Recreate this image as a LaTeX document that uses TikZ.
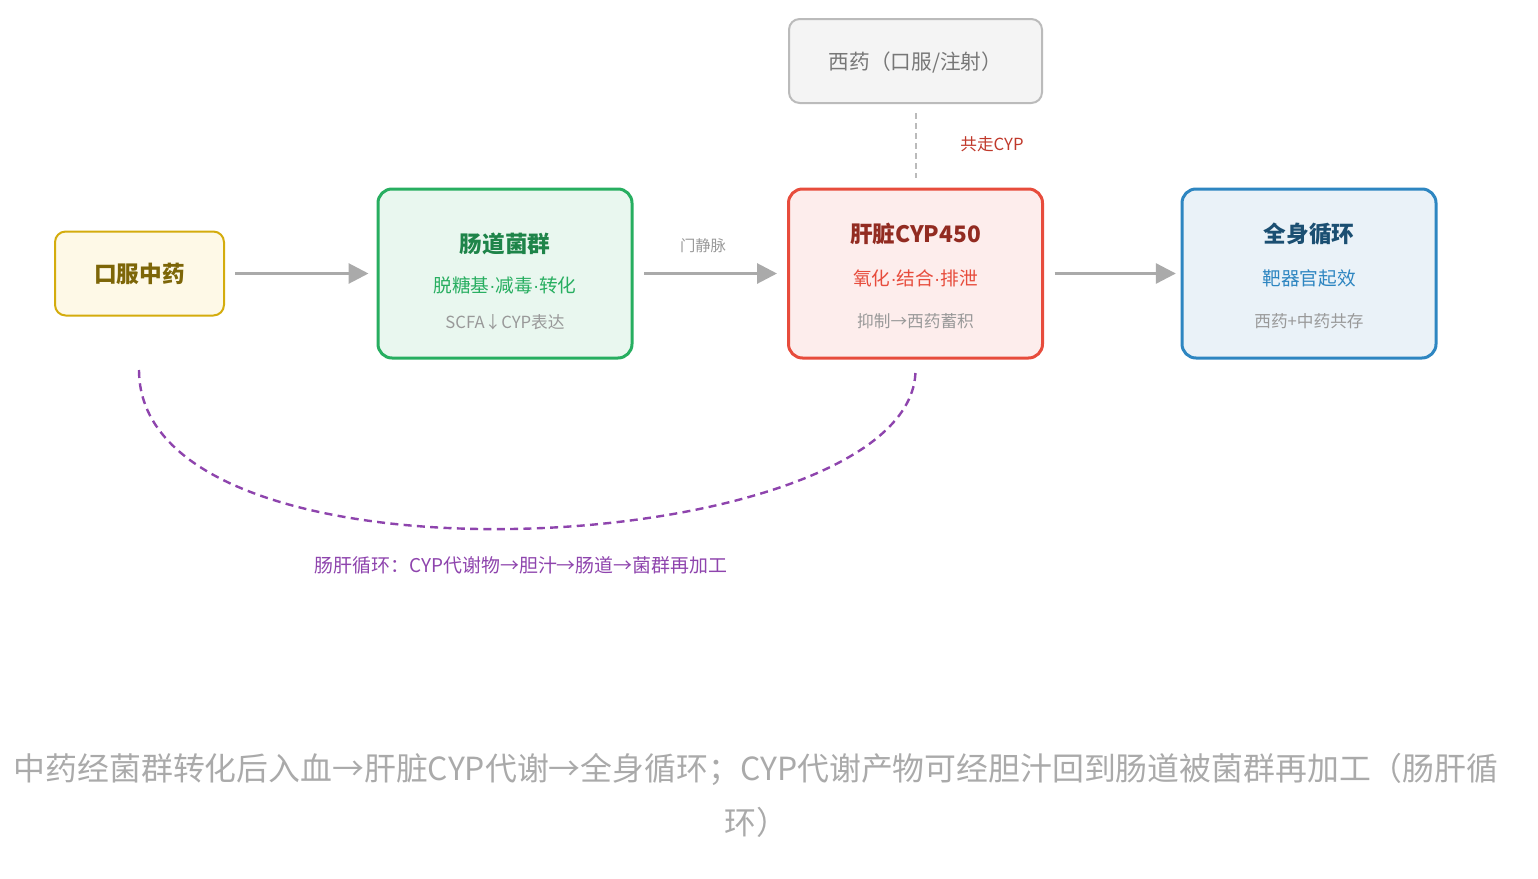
\documentclass[tikz,border=0pt]{standalone}
\usepackage{fontspec}
\setmainfont{Noto Sans CJK SC}
\newfontfamily\latinfont{Liberation Sans}
\newcommand{\mdot}{{\latinfont ·}}
\usepackage{tikz}
\usetikzlibrary{arrows.meta}
\definecolor{oralline}{HTML}{D4AC0D}
\definecolor{oralfill}{HTML}{FEF9E7}
\definecolor{oraltext}{HTML}{7D6608}
\definecolor{gutline}{HTML}{27AE60}
\definecolor{gutfill}{HTML}{E9F7EF}
\definecolor{gutdark}{HTML}{1E8449}
\definecolor{liverline}{HTML}{E74C3C}
\definecolor{liverfill}{HTML}{FDEDEC}
\definecolor{liverdark}{HTML}{922B21}
\definecolor{cypred}{HTML}{C0392B}
\definecolor{bodyline}{HTML}{2E86C1}
\definecolor{bodyfill}{HTML}{EAF2F8}
\definecolor{bodydark}{HTML}{1B4F72}
\definecolor{westline}{HTML}{BBBBBB}
\definecolor{westfill}{HTML}{F4F4F4}
\definecolor{westtext}{HTML}{777777}
\definecolor{arrowgray}{HTML}{AAAAAA}
\definecolor{notegray}{HTML}{999999}
\definecolor{loopviolet}{HTML}{8E44AD}
\tikzset{> = {Triangle[length=15pt,width=15pt]}, every picture/.style={line width=2.25pt}}
\tikzset{
  titletext/.style={font=\bfseries\fontsize{17}{20}\selectfont},
  subtext/.style={font=\fontsize{14}{16}\selectfont},
  notetext/.style={font=\fontsize{12.5}{14}\selectfont, text=notegray}
}

\begin{document}
\begin{tikzpicture}[x=0.75pt,y=-0.75pt]
\useasboundingbox (0,0) rectangle (1538,878);

\begin{scope}[every node/.style={draw,rounded corners=10.5pt,line width=2.25pt,minimum width=190.5pt,minimum height=126.75pt}]
\node[draw=gutline,fill=gutfill] (gut) at (505,273.5) {};
\node[draw=liverline,fill=liverfill] (liver) at (915.5,273.5) {};
\node[draw=bodyline,fill=bodyfill] (body) at (1309,273.5) {};
\node[draw=oralline,fill=oralfill,line width=1.5pt,rounded corners=8pt,minimum width=126.75pt,minimum height=63pt,text=oraltext,titletext] (oral) at (139.5,273.5) {口服中药};
\node[draw=westline,fill=westfill,line width=1.5pt,rounded corners=8pt,minimum width=189.75pt,minimum height=63pt] (west) at (915.5,61) {};
\end{scope}

\begin{scope}[every node/.style={inner sep=0pt}]
\node[font=\fontsize{15.5}{18}\selectfont,text=westtext] (westT) at (915.5,62.5) {西药（口服/注射）};
\node[titletext,text=gutdark] (gutT) at (505,244) {肠道菌群};
\node[subtext,text=gutline] (gutS) at (505,285) {脱糖基\mdot 减毒\mdot 转化};
\node[notetext] (gutN) at (505,322) {SCFA↓CYP表达};
\node[titletext,text=liverdark] (liverT) at (915.5,234) {肝脏CYP450};
\node[subtext,text=liverline] (liverS) at (915.5,278) {氧化\mdot 结合\mdot 排泄};
\node[notetext] (liverN) at (915.5,321) {抑制→西药蓄积};
\node[titletext,text=bodydark] (bodyT) at (1309,234) {全身循环};
\node[subtext,text=bodyline] (bodyS) at (1309,278) {靶器官起效};
\node[notetext] (bodyN) at (1309,321) {西药+中药共存};
\node[font=\fontsize{12.5}{14}\selectfont,text=cypred] (cyp) at (992,144) {共走CYP};
\node[font=\fontsize{11.5}{14}\selectfont,text=notegray] (pv) at (703,246) {门静脉};
\node[font=\fontsize{14.2}{16}\selectfont,text=loopviolet] (loopT) at (521,565) {肠肝循环：CYP代谢物→胆汁→肠道→菌群再加工};
\node[font=\fontsize{23.9}{40.5}\selectfont,text=arrowgray,align=center] (cap) at (756,795)
  {中药经菌群转化后入血→肝脏CYP代谢→全身循环；CYP代谢产物可经胆汁回到肠道被菌群再加工（肠肝循\\环）};
\end{scope}

\begin{scope}[every edge/.style={draw,arrowgray,line width=2.25pt}]
    \path [->] (oral) edge[shorten <=7.5pt,shorten >=6pt] (gut);
    \path [->] (gut) edge[shorten <=8pt,shorten >=7.5pt] (liver);
    \path [->] (liver) edge[shorten <=8pt,shorten >=3.5pt] (body);
\end{scope}

\draw[westline,line width=1.5pt,dash pattern=on 4.5pt off 3pt,shorten <=6.75pt,shorten >=7.5pt] (west) -- (liver);

\coordinate (loopstart) at (139,370);
\coordinate (loopend) at (915.5,370);
\draw[loopviolet,line width=1.8pt,dash pattern=on 6pt off 4pt] (loopstart) .. controls (139,605) and (915.5,558) .. (loopend);
\end{tikzpicture}
\end{document}
